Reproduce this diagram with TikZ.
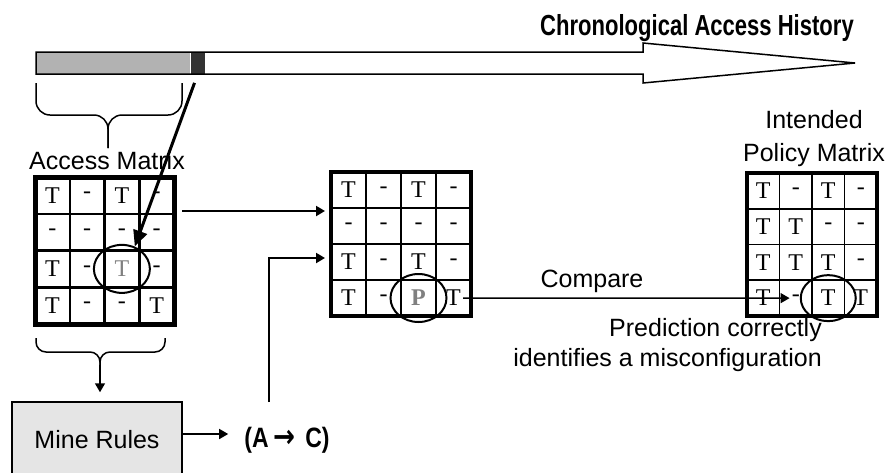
\documentclass[tikz,border=0pt]{standalone}
\usepackage{fontspec}
\setmainfont{Liberation Sans}
\newfontfamily\cellfont{Liberation Serif}
\newfontfamily\symfont{DejaVu Sans}
\usepackage{graphicx}
\usepackage{xcolor}
\usepackage{tikz}
\usetikzlibrary{arrows.meta,positioning,shapes.geometric}

\tikzset{
  label text/.style={font=\fontsize{25}{30}\selectfont, inner sep=0pt},
  cell/.style={font=\cellfont\fontsize{24}{26}\selectfont, inner sep=2pt},
  ring/.style={ellipse, draw, line width=2pt, minimum width=56pt, minimum height=48pt, inner sep=0pt},
  link/.style={-{Triangle[length=9pt,width=10pt]}, line width=2pt},
}

\begin{document}
\begin{tikzpicture}[x=1pt, y=-1pt]
  \useasboundingbox (0,0) rectangle (886,472);

  % History bar (top)
  \node[fill=gray!60, minimum width=154pt, minimum height=22pt, inner sep=0pt, anchor=north west] (past) at (36,52) {};
  \node[fill=black!80, minimum width=14pt, minimum height=22pt, inner sep=0pt, right=0pt of past] (recent) {};
  \draw[line width=1.5pt] (36,52) -- (643,52) -- (643,43) -- (855,63) -- (643,83) -- (643,74) -- (36,74) -- cycle;
  \node[font=\bfseries\fontsize{29}{32}\selectfont] (title) at (697,28) {\scalebox{0.76}[1]{Chronological Access History}};

  % Brace over the access window
  \draw[line width=1.5pt, rounded corners=14pt] (36,83) -- (36,115) -- (108,115) -- (108,148);
  \draw[line width=1.5pt, rounded corners=14pt] (182,83) -- (182,115) -- (108,115) -- (108,148);
  \node[label text] (accname) at (107,161) {Access Matrix};

  % Access matrix (left)
  \begin{scope}[shift={(35,177)}, x=34.75pt, y=-36.75pt]
    \foreach \k in {1,2,3} {
      \draw[line width=2.5pt] (\k,0) -- (\k,4);
      \draw[line width=2.5pt] (0,\k) -- (4,\k);
    }
    \draw[line width=5pt] (0,0) rectangle (4,4);
    \foreach \row [count=\r] in {{T,-,T,-},{-,-,-,-},{T,-,\textcolor{gray}{T},-},{T,-,-,T}}
      \foreach \entry [count=\c] in \row
        \node[cell] (acc-\r-\c) at (\c-0.5,\r-0.5) {\entry};
  \end{scope}
  \node[ring] (ring-acc) at (acc-3-3) {};

  % Predicted matrix (middle)
  \begin{scope}[shift={(331,172)}, x=35pt, y=-36pt]
    \foreach \k in {1,2,3} {
      \draw[line width=1.8pt] (\k,0) -- (\k,4);
      \draw[line width=1.8pt] (0,\k) -- (4,\k);
    }
    \draw[line width=4pt] (0,0) rectangle (4,4);
    \foreach \row [count=\r] in {{T,-,T,-},{-,-,-,-},{T,-,T,-},{T,-,\textbf{\textcolor{gray}{P}},T}}
      \foreach \entry [count=\c] in \row
        \node[cell] (mid-\r-\c) at (\c-0.5,\r-0.5) {\entry};
  \end{scope}
  \node[ring] (ring-mid) at (mid-4-3) {};

  % Intended policy matrix (right)
  \node[label text, align=center, font=\fontsize{25}{33}\selectfont] (polname) at (814,139) {Intended\\Policy Matrix};
  \begin{scope}[shift={(747,173)}, x=32.5pt, y=-35.75pt]
    \foreach \k in {1,2,3} {
      \draw[line width=1.8pt] (\k,0) -- (\k,4);
      \draw[line width=1.8pt] (0,\k) -- (4,\k);
    }
    \draw[line width=4pt] (0,0) rectangle (4,4);
    \foreach \row [count=\r] in {{T,-,T,-},{T,T,-,-},{T,T,T,-},{T,-,T,T}}
      \foreach \entry [count=\c] in \row
        \node[cell] (pol-\r-\c) at (\c-0.5,\r-0.5) {\entry};
  \end{scope}
  \node[ring, minimum width=55pt, minimum height=46pt] (ring-pol) at (pol-4-3) {};

  % Recent access into the matrix
  \draw[-{Triangle[length=16pt,width=14pt]}, line width=3pt, shorten <=9pt] (recent.south) -- (ring-acc.60);

  % Mining (bottom)
  \draw[line width=1.5pt, rounded corners=10pt] (36,338) -- (36,352) -- (100,352) -- (100,366);
  \draw[line width=1.5pt, rounded corners=10pt] (165,338) -- (165,352) -- (100,352) -- (100,366);
  \coordinate (brace-tip) at (100,365);
  \node[draw, fill=gray!20, line width=1.5pt, minimum width=170pt, minimum height=76pt, label text] (mine) at (97,440) {Mine Rules};
  \draw[link, line width=1.5pt, shorten >=9pt] (brace-tip) -- (mine.north -| brace-tip);
  \node[font=\bfseries\fontsize{28}{30}\selectfont, inner sep=0pt] (rule) at (287,440) {\scalebox{0.82}[1]{(A\hspace{6pt}{\symfont\bfseries\fontsize{32}{32}\selectfont →}\hspace{12pt}C)}};
  \draw[link, line width=1.5pt, shorten >=16pt] ([yshift=6pt]mine.east) -- ([yshift=6pt]rule.west);

  % Inputs of the prediction
  \coordinate (feed-a) at (182,211);
  \coordinate (feed-b) at (325,211);
  \coordinate (rule-up) at (269,402);
  \coordinate (feed-c) at (325,258);
  \draw[link] (feed-a) -- (feed-b);
  \draw[link] (rule-up) |- (feed-c);

  % Compare (right)
  \draw[link, line width=1.5pt] (mid-4-4) -- (pol-4-2);
  \node[label text] (cmp) at (592,281) {Compare};
  \node[label text, align=right, anchor=east] (verdict) at (822,345) {Prediction correctly\\identifies a misconfiguration};
\end{tikzpicture}
\end{document}
